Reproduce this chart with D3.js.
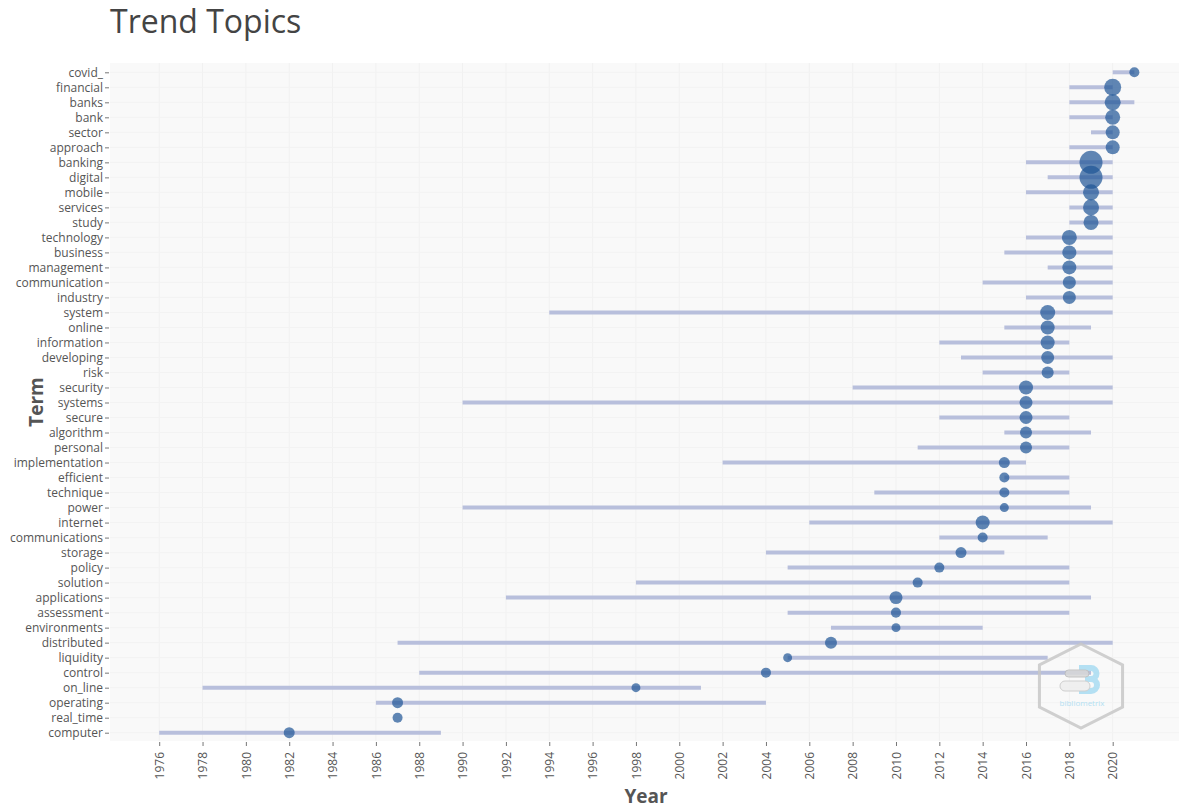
<!DOCTYPE html>
<html>
<head>
<meta charset="utf-8">
<script src="https://cdn.jsdelivr.net/npm/d3@7"></script>
<style>
  body { margin: 0; background: #fff; }
  text { font-family: "Open Sans", sans-serif; }
</style>
</head>
<body>
<div id="trend-topics"></div>
<script>
// Terms, top to bottom
var terms = ["covid_", "financial", "banks", "bank", "sector", "approach", "banking", "digital",
    "mobile", "services", "study", "technology", "business", "management", "communication",
    "industry", "system", "online", "information", "developing", "risk", "security", "systems",
    "secure", "algorithm", "personal", "implementation", "efficient", "technique", "power",
    "internet", "communications", "storage", "policy", "solution", "applications", "assessment",
    "environments", "distributed", "liquidity", "control", "on_line", "operating", "real_time",
    "computer"];

// First quartile year, median year, third quartile year
var yearQ1 = [2020, 2018, 2018, 2018, 2019, 2018, 2016, 2017, 2016, 2018, 2018, 2016, 2015, 2017, 2014,
    2016, 1994, 2015, 2012, 2013, 2014, 2008, 1990, 2012, 2015, 2011, 2002, 2015, 2009, 1990,
    2006, 2012, 2004, 2005, 1998, 1992, 2005, 2007, 1987, 2005, 1988, 1978, 1986, 1987, 1976];
var yearMedian = [2021, 2020, 2020, 2020, 2020, 2020, 2019, 2019, 2019, 2019, 2019, 2018, 2018, 2018, 2018,
    2018, 2017, 2017, 2017, 2017, 2017, 2016, 2016, 2016, 2016, 2016, 2015, 2015, 2015, 2015,
    2014, 2014, 2013, 2012, 2011, 2010, 2010, 2010, 2007, 2005, 2004, 1998, 1987, 1987, 1982];
var yearQ3 = [2021, 2020, 2021, 2020, 2020, 2020, 2020, 2020, 2020, 2020, 2020, 2020, 2020, 2020, 2020,
    2020, 2020, 2019, 2018, 2020, 2018, 2020, 2020, 2018, 2019, 2018, 2016, 2018, 2018, 2019,
    2020, 2017, 2015, 2018, 2018, 2019, 2018, 2014, 2020, 2017, 2019, 2001, 2004, 1987, 1989];

// Term frequency (dot size)
var termFreq = [25, 72, 64, 56, 49, 49, 132, 132, 64, 64, 56, 56, 49, 49, 42,
    42, 56, 49, 49, 42, 36, 49, 42, 42, 36, 36, 30, 25, 25, 20,
    49, 25, 30, 25, 25, 42, 25, 20, 36, 20, 25, 20, 30, 25, 30];

// Year tick labels
var yearTicks = d3.range(1976, 2021, 2);

var data = terms.map(function (t, i) {
    return {term: t, q1: yearQ1[i], med: yearMedian[i], q3: yearQ3[i], freq: termFreq[i]};
});

// Dimensions
var width_tt = 1179, height_tt = 808;
var plot_tt = {left: 110, right: 1179, top: 63, bottom: 741};

var svg_tt = d3.select("#trend-topics")
    .append("svg")
    .attr("width", width_tt)
    .attr("height", height_tt);

// Scales
var x_tt = d3.scaleLinear()
    .domain([1973.73, 2023.06])
    .range([plot_tt.left, plot_tt.right]);

var y_tt = d3.scalePoint()
    .domain(terms)
    .range([72.3, 732.7]);

var r_tt = d3.scaleSqrt()
    .domain([0, d3.max(termFreq)])
    .range([0, 11.5]);

// Panel background
svg_tt.append("rect")
    .attr("x", plot_tt.left)
    .attr("y", plot_tt.top)
    .attr("width", plot_tt.right - plot_tt.left)
    .attr("height", plot_tt.bottom - plot_tt.top)
    .attr("fill", "#f9f9f9");

// Grid lines
svg_tt.append("g")
    .selectAll("line")
    .data(yearTicks)
    .enter()
    .append("line")
    .attr("x1", function (d) { return x_tt(d); })
    .attr("x2", function (d) { return x_tt(d); })
    .attr("y1", plot_tt.top)
    .attr("y2", plot_tt.bottom)
    .attr("stroke", "#f1f1f1")
    .attr("stroke-width", 1);

svg_tt.append("g")
    .selectAll("line")
    .data(terms)
    .enter()
    .append("line")
    .attr("x1", plot_tt.left)
    .attr("x2", plot_tt.right)
    .attr("y1", function (d) { return y_tt(d); })
    .attr("y2", function (d) { return y_tt(d); })
    .attr("stroke", "#f3f3f3")
    .attr("stroke-width", 1);

// X axis
var xAxis_tt = svg_tt.append("g")
    .attr("transform", "translate(0," + (plot_tt.bottom + 1) + ")")
    .call(d3.axisBottom(x_tt).tickValues(yearTicks).tickFormat(d3.format("d")).tickSize(4).tickPadding(6));
xAxis_tt.select(".domain").remove();
xAxis_tt.selectAll("line").attr("stroke", "#777");
xAxis_tt.selectAll("text")
    .attr("transform", "rotate(-90)")
    .attr("x", -10)
    .attr("y", 0)
    .attr("dy", "0.35em")
    .style("text-anchor", "end")
    .style("font-size", "12px")
    .style("font-family", "'Open Sans', sans-serif")
    .attr("fill", "#555");

// Y axis
var yAxis_tt = svg_tt.append("g")
    .attr("transform", "translate(" + (plot_tt.left - 1) + ",0)")
    .call(d3.axisLeft(y_tt).tickSize(4).tickPadding(2));
yAxis_tt.select(".domain").remove();
yAxis_tt.selectAll("line").attr("stroke", "#777");
yAxis_tt.selectAll("text")
    .style("font-size", "12px")
    .style("font-family", "'Open Sans', sans-serif")
    .attr("fill", "#555");

// Range lines (Q1 to Q3)
svg_tt.append("g")
    .selectAll("line")
    .data(data)
    .enter()
    .append("line")
    .attr("x1", function (d) { return x_tt(d.q1); })
    .attr("x2", function (d) { return x_tt(d.q3); })
    .attr("y1", function (d) { return y_tt(d.term); })
    .attr("y2", function (d) { return y_tt(d.term); })
    .attr("stroke", "#b8bfdc")
    .attr("stroke-width", 4);

// Median dots
svg_tt.append("g")
    .selectAll("circle")
    .data(data)
    .enter()
    .append("circle")
    .attr("cx", function (d) { return x_tt(d.med); })
    .attr("cy", function (d) { return y_tt(d.term); })
    .attr("r", function (d) { return r_tt(d.freq); })
    .attr("fill", "rgb(30,84,150)")
    .attr("fill-opacity", 0.7);

// Watermark logo
var logo = svg_tt.append("g")
    .attr("transform", "translate(1081,686)")
    .attr("opacity", 0.85);
var hex = d3.range(6).map(function (i) {
    var a = Math.PI / 3 * i - Math.PI / 2;
    return [48 * Math.cos(a), 42 * Math.sin(a)];
});
logo.append("polygon")
    .attr("points", hex.map(function (p) { return p.join(","); }).join(" "))
    .attr("fill", "none")
    .attr("stroke", "#c8c8c8")
    .attr("stroke-width", 3);
logo.append("path")
    .attr("d", "M-2,-18 H10 A5.5,5.5 0 0 1 10,-7 H4 M10,-7 A6,6 0 0 1 10,5 H-2")
    .attr("fill", "none")
    .attr("stroke", "#a8dcf2")
    .attr("stroke-width", 6);
logo.append("rect")
    .attr("x", -16).attr("y", -16).attr("width", 24).attr("height", 7).attr("rx", 3.5)
    .attr("fill", "#d8d8d8").attr("stroke", "#bbb");
logo.append("rect")
    .attr("x", -21).attr("y", -5).attr("width", 30).attr("height", 10).attr("rx", 5)
    .attr("fill", "#eee").attr("stroke", "#c8c8c8");
logo.append("text")
    .attr("x", 1)
    .attr("y", 20)
    .attr("text-anchor", "middle")
    .style("font-size", "8px")
    .attr("fill", "#a8dcf2")
    .text("bibliometrix");

// Titles
svg_tt.append("text")
    .attr("x", 110)
    .attr("y", 33)
    .style("font-size", "32px")
    .attr("fill", "#444")
    .text("Trend Topics");

svg_tt.append("text")
    .attr("x", 646)
    .attr("y", 803)
    .attr("text-anchor", "middle")
    .style("font-size", "19px")
    .style("font-weight", "bold")
    .attr("fill", "#555")
    .text("Year");

svg_tt.append("text")
    .attr("transform", "translate(43,402) rotate(-90)")
    .attr("text-anchor", "middle")
    .style("font-size", "19px")
    .style("font-weight", "bold")
    .attr("fill", "#555")
    .text("Term");
</script>
</body>
</html>
